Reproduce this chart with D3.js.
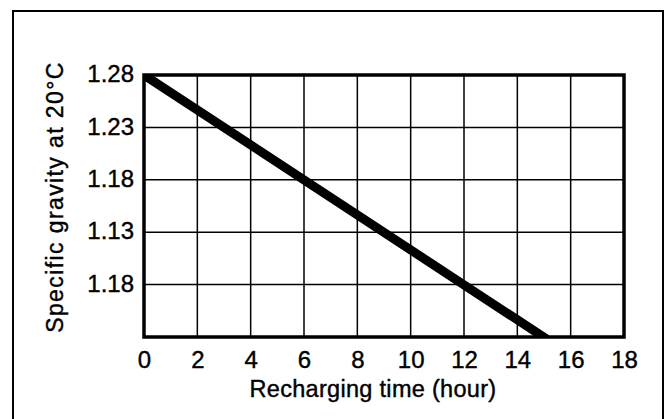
<!DOCTYPE html>
<html>
<head>
<meta charset="utf-8">
<script src="https://cdn.jsdelivr.net/npm/d3@7"></script>
<style>
  body { margin: 0; background: #fff; }
  text { font-family: "Liberation Sans", Arial, sans-serif; fill: #000; stroke: #000; stroke-width: 0.4px; }
</style>
</head>
<body>
<script>
// Chart values
var hours = [0, 15.1];
var gravity = [1.28, 1.028];
var xTicks = [0, 2, 4, 6, 8, 10, 12, 14, 16, 18];
var yTicks = [1.28, 1.23, 1.18, 1.13, 1.08];
var yTickLabels = ["1.28", "1.23", "1.18", "1.13", "1.18"];

var W = 668, H = 419;
var margin = {top: 75, right: 44, bottom: 82, left: 144},
  width = W - margin.left - margin.right,
  height = H - margin.top - margin.bottom;

var svg = d3.select("body").append("svg")
  .attr("width", W)
  .attr("height", H);

// Outer frame of the figure
svg.append("rect")
  .attr("x", 13).attr("y", 11)
  .attr("width", 650).attr("height", 420)
  .attr("fill", "none")
  .attr("stroke", "#000")
  .attr("stroke-width", 2);

var g = svg.append("g")
  .attr("transform", "translate(" + margin.left + "," + margin.top + ")");

var x = d3.scaleLinear().domain([0, 18]).range([0, width]);
var y = d3.scaleLinear().domain([1.03, 1.28]).range([height, 0]);

// Grid
g.selectAll(".vgrid")
  .data(xTicks)
  .enter().append("line")
  .attr("x1", function (d) { return x(d); })
  .attr("x2", function (d) { return x(d); })
  .attr("y1", 0).attr("y2", height)
  .attr("stroke", "#000")
  .attr("stroke-width", 1.5);

g.selectAll(".hgrid")
  .data(yTicks)
  .enter().append("line")
  .attr("x1", 0).attr("x2", width)
  .attr("y1", function (d) { return y(d); })
  .attr("y2", function (d) { return y(d); })
  .attr("stroke", "#000")
  .attr("stroke-width", 1.5);

// Data line, clipped to plot area
g.append("clipPath").attr("id", "clip")
  .append("rect").attr("width", width).attr("height", height);

var pts = hours.map(function (h, i) { return [h, gravity[i]]; });
g.append("path")
  .datum(pts)
  .attr("clip-path", "url(#clip)")
  .attr("fill", "none")
  .attr("stroke", "#000")
  .attr("stroke-width", 9)
  .attr("d", d3.line()
    .x(function (d) { return x(d[0]); })
    .y(function (d) { return y(d[1]); }));

// Plot frame
g.append("rect")
  .attr("width", width).attr("height", height)
  .attr("fill", "none")
  .attr("stroke", "#000")
  .attr("stroke-width", 3.5);

// Axes (labels only)
var xAxis = g.append("g")
  .attr("transform", "translate(0," + height + ")")
  .call(d3.axisBottom(x).tickValues(xTicks).tickSize(0).tickPadding(14).tickFormat(d3.format("d")));
xAxis.select(".domain").remove();
xAxis.selectAll("text").style("font-size", "24px");

var yAxis = g.append("g")
  .call(d3.axisLeft(y).tickValues(yTicks).tickSize(0).tickPadding(10)
    .tickFormat(function (d, i) { return yTickLabels[i]; }));
yAxis.select(".domain").remove();
yAxis.selectAll("text").style("font-size", "24px").attr("dy", "0.28em");

// Titles
svg.append("text")
  .attr("x", 373)
  .attr("y", 397)
  .style("text-anchor", "middle")
  .style("font-size", "23.5px")
  .style("letter-spacing", "0.3px")
  .text("Recharging time (hour)");

svg.append("text")
  .attr("transform", "translate(63,197) rotate(-90)")
  .style("text-anchor", "middle")
  .style("font-size", "23px")
  .style("letter-spacing", "1.4px")
  .text("Specific gravity at 20°C");
</script>
</body>
</html>
